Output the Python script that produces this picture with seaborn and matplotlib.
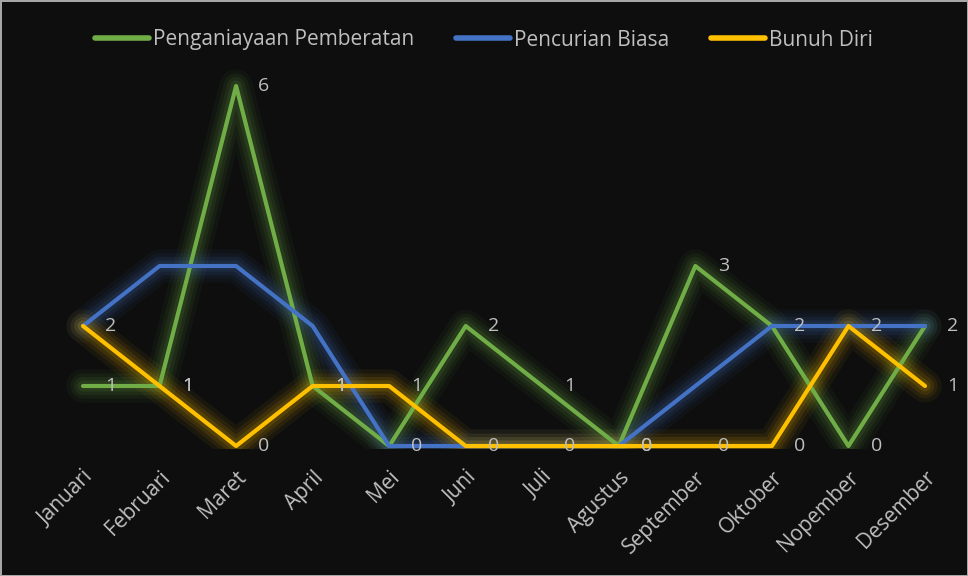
import matplotlib
matplotlib.use("Agg")
import matplotlib.pyplot as plt
import seaborn as sns
import pandas as pd
import numpy as np
from matplotlib.lines import Line2D
from matplotlib.patches import Rectangle

months = ["Januari", "Februari", "Maret", "April", "Mei", "Juni", "Juli",
          "Agustus", "September", "Oktober", "Nopember", "Desember"]
penganiayaan = [1, 1, 6, 1, 0, 2, 1, 0, 3, 2, 0, 2]
pencurian = [2, 3, 3, 2, 0, 0, 0, 0, 1, 2, 2, 2]
bunuh_diri = [2, 1, 0, 1, 1, 0, 0, 0, 0, 0, 2, 1]

series_names = ["Penganiayaan Pemberatan", "Pencurian Biasa", "Bunuh Diri"]
series_values = [penganiayaan, pencurian, bunuh_diri]
colors = ["#70ad47", "#4472c4", "#ffc000"]
labelled = [True, False, True]

sns.set_theme(style="dark")
plt.rcParams["font.family"] = ["Open Sans", "DejaVu Sans"]

bg = "#0e0e0e"
txt = "#bfbfbf"

pos = list(range(len(months)))
rows = []
for name, vals in zip(series_names, series_values):
    for i, v in zip(pos, vals):
        rows.append({"pos": i, "Jumlah": v, "Seri": name})
df = pd.DataFrame(rows)

fig = plt.figure(figsize=(9.68, 5.76), dpi=100, facecolor=bg)
fig.patch.set_edgecolor("#a6a6a6")
fig.patch.set_linewidth(2)
ax = fig.add_axes([83/968, 1-446/576, (925-83)/968, (446-86)/576])
ax.set_facecolor(bg)

clip = Rectangle((-0.1, -0.008), 1.2, 1.2, transform=ax.transAxes,
                 facecolor="none", edgecolor="none")
ax.add_patch(clip)

# glow layers
for name, vals, c in zip(series_names, series_values, colors):
    for lw, a in [(24, 0.05), (18, 0.07), (13, 0.09), (8, 0.12)]:
        g, = ax.plot(pos, vals, color=c, lw=lw, alpha=a, solid_capstyle="round",
                     solid_joinstyle="round", zorder=1)
        g.set_clip_path(clip)

sns.lineplot(data=df, x="pos", y="Jumlah", hue="Seri", hue_order=series_names,
             palette=colors, linewidth=3, ax=ax, legend=False, sort=False,
             zorder=3)
for ln in ax.lines[-3:]:
    ln.set_solid_capstyle("round")
    ln.set_clip_on(False)

ax.set_xlim(0, 11)
ax.set_ylim(0, 6)
ax.set_yticks([])
ax.set_xticks(pos)
ax.set_xticklabels(months, rotation=45, ha="right", va="top",
                   rotation_mode="anchor", color=txt, fontsize=15)
ax.tick_params(axis="x", length=0, pad=15)
ax.set_xlabel("")
ax.set_ylabel("")
for s in ax.spines.values():
    s.set_visible(False)
ax.grid(False)

# data labels
for vals, lab in zip(series_values, labelled):
    if not lab:
        continue
    for i, v in zip(pos, vals):
        ax.annotate(str(v), (i, v), xytext=(20, 0), textcoords="offset points",
                    ha="center", va="center", color=txt, fontsize=14, zorder=5,
                    annotation_clip=False)

# legend
handles = [Line2D([0], [0], color=c, lw=4) for c in colors]
leg = fig.legend(handles, series_names, loc="center", bbox_to_anchor=(0.5, 1 - 40/576),
                 ncol=3, frameon=False, fontsize=15, handlelength=2.6,
                 handletextpad=0.2, columnspacing=2.0)
for t in leg.get_texts():
    t.set_color(txt)

fig.savefig("out.png", dpi=100, facecolor=bg, edgecolor=fig.patch.get_edgecolor())
